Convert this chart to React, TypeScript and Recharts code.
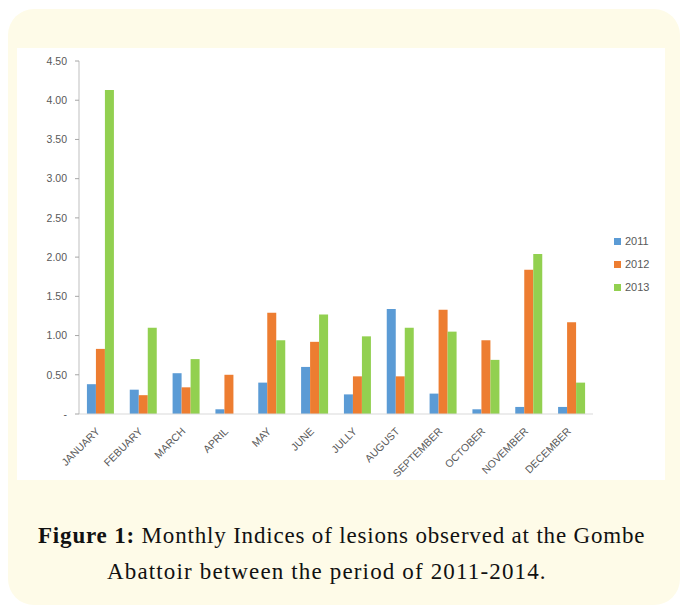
import React from 'react'
import { BarChart, Bar, XAxis, YAxis, Legend } from 'recharts'

const months = ['JANUARY', 'FEBUARY', 'MARCH', 'APRIL', 'MAY', 'JUNE', 'JULLY', 'AUGUST', 'SEPTEMBER', 'OCTOBER', 'NOVEMBER', 'DECEMBER']
const y2011 = [0.38, 0.31, 0.52, 0.06, 0.4, 0.6, 0.25, 1.34, 0.26, 0.06, 0.09, 0.09]
const y2012 = [0.83, 0.24, 0.34, 0.5, 1.29, 0.92, 0.48, 0.48, 1.33, 0.94, 1.84, 1.17]
const y2013 = [4.13, 1.1, 0.7, 0, 0.94, 1.27, 0.99, 1.1, 1.05, 0.69, 2.04, 0.4]
const yTicks = [0, 0.5, 1, 1.5, 2, 2.5, 3, 3.5, 4, 4.5]

const series = [
  { key: 'y2011', name: '2011', color: '#5B9BD5' },
  { key: 'y2012', name: '2012', color: '#ED7D31' },
  { key: 'y2013', name: '2013', color: '#92D050' }
]

const data = months.map((m, i) => ({ month: m, y2011: y2011[i], y2012: y2012[i], y2013: y2013[i] }))

const FONT = '"Liberation Sans", Arial, sans-serif'
const GREY = '#595959'

// rotated month labels, like Excel's -45deg category axis
const MonthTick = ({ x, y, payload }: any) => (
  <g transform={`translate(${x},${y + 16})`}>
    <text x={0} y={0} textAnchor="end" transform="rotate(-45)" fontSize={10.5} fill={GREY} fontFamily={FONT}>
      {payload.value}
    </text>
  </g>
)

const LegendBox = () => (
  <div style={{ width: 62, paddingLeft: 21, boxSizing: 'border-box', fontFamily: FONT }}>
    {series.map((s) => (
      <div key={s.key} style={{ display: 'flex', alignItems: 'center', height: 23, fontSize: 11, color: GREY }}>
        <span style={{ width: 7, height: 7, background: s.color, marginRight: 4, display: 'inline-block' }} />
        {s.name}
      </div>
    ))}
  </div>
)

const App = () => {
  return (
    <div
      style={{
        width: 672,
        height: 596,
        marginTop: 1,
        background: '#FEFBE8',
        borderRadius: 26,
        position: 'relative',
        overflow: 'hidden'
      }}
    >
      <div style={{ position: 'absolute', left: 9, top: 39, width: 648, height: 432, background: '#fff' }}>
        <BarChart
          width={648}
          height={432}
          data={data}
          margin={{ top: 13, right: 10, bottom: 0, left: 0 }}
          barCategoryGap="18.5%"
          barGap={0}
        >
          <XAxis
            dataKey="month"
            interval={0}
            height={66}
            tickLine={false}
            tickSize={0}
            axisLine={{ stroke: '#D9D9D9' }}
            tick={<MonthTick />}
          />
          <YAxis
            width={62}
            domain={[0, 4.5]}
            ticks={yTicks}
            tickFormatter={(v: number) => (v === 0 ? '-' : v.toFixed(2))}
            tickSize={4}
            tickMargin={8}
            tick={{ fontSize: 10.5, fill: GREY, fontFamily: FONT }}
            tickLine={{ stroke: '#A6A6A6' }}
            axisLine={{ stroke: '#BFBFBF' }}
          />
          <Legend layout="vertical" align="right" verticalAlign="middle" content={<LegendBox />} />
          {series.map((s) => (
            <Bar key={s.key} dataKey={s.key} name={s.name} fill={s.color} isAnimationActive={false} />
          ))}
        </BarChart>
      </div>
      <div
        style={{
          position: 'absolute',
          left: 0,
          top: 509,
          width: 672,
          fontFamily: '"Liberation Serif", "DejaVu Serif", serif',
          fontSize: 23,
          color: '#111',
          lineHeight: '36px'
        }}
      >
        <div style={{ paddingLeft: 30, letterSpacing: 0.82, whiteSpace: 'nowrap' }}>
          <b>Figure 1:</b> Monthly Indices of lesions observed at the Gombe
        </div>
        <div style={{ paddingLeft: 99, letterSpacing: 1.15, whiteSpace: 'nowrap' }}>
          Abattoir between the period of 2011-2014.
        </div>
      </div>
    </div>
  )
}

export default App
